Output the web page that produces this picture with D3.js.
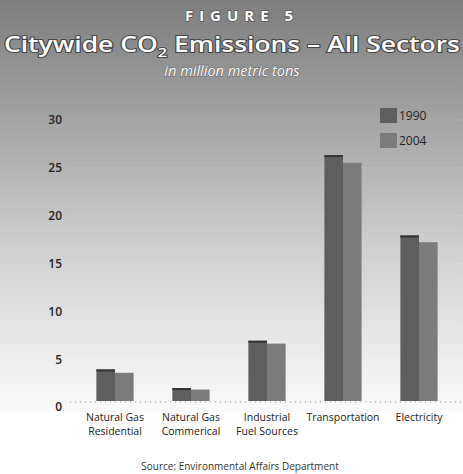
<!DOCTYPE html>
<html>
<head>
<meta charset="utf-8">
<script src="https://cdn.jsdelivr.net/npm/d3@7"></script>
<style>
  body { margin: 0; background: #fff; }
  text { font-family: "Open Sans", "Noto Sans", sans-serif; }
</style>
</head>
<body>
<div id="chart"></div>
<script>
// données
const categories = ["Natural Gas Residential", "Natural Gas Commerical", "Industrial Fuel Sources", "Transportation", "Electricity"];
const labels = [["Natural Gas", "Residential"], ["Natural Gas", "Commerical"], ["Industrial", "Fuel Sources"], ["Transportation"], ["Electricity"]];
const years = ["1990", "2004"];
const values1990 = [3.3, 1.35, 6.3, 25.7, 17.3];
const values2004 = [2.95, 1.2, 6.0, 24.9, 16.6];
const yTicks = [0, 5, 10, 15, 20, 25, 30];

const W = 463, H = 474;
const colors = { "1990": "#5e5e5e", "2004": "#7c7c7c" };

const svg = d3.select("#chart").append("svg")
  .attr("width", W)
  .attr("height", H);

// fond dégradé
const defs = svg.append("defs");
const grad = defs.append("linearGradient")
  .attr("id", "bg")
  .attr("x1", 0).attr("y1", 0).attr("x2", 0).attr("y2", 1);
grad.append("stop").attr("offset", "0%").attr("stop-color", "#7e7e7e");
grad.append("stop").attr("offset", "25%").attr("stop-color", "#9e9e9e");
grad.append("stop").attr("offset", "60%").attr("stop-color", "#cfcfcf");
grad.append("stop").attr("offset", "100%").attr("stop-color", "#fbfbfb");

svg.append("rect")
  .attr("x", 0).attr("y", 0)
  .attr("width", W).attr("height", 412)
  .attr("fill", "url(#bg)");

const x = d3.scaleBand()
  .domain(categories)
  .range([77, 457])
  .paddingInner(0.51)
  .paddingOuter(0.255);

const xYear = d3.scaleBand()
  .domain(years)
  .range([0, x.bandwidth()]);

const y = d3.scaleLinear()
  .domain([0, 30])
  .range([401, 114]);

// lignes pointillées discrètes
svg.append("g")
  .selectAll("line")
  .data(yTicks.filter(d => d > 0))
  .enter()
  .append("line")
  .attr("x1", 70).attr("x2", W)
  .attr("y1", d => y(d) + 6).attr("y2", d => y(d) + 6)
  .attr("stroke", "#ffffff")
  .attr("stroke-opacity", 0.35)
  .attr("stroke-dasharray", "1,3");

svg.append("line")
  .attr("x1", 70).attr("x2", W)
  .attr("y1", y(0) + 1).attr("y2", y(0) + 1)
  .attr("stroke", "#999")
  .attr("stroke-dasharray", "1,4");

// axe Y
const yAxis = svg.append("g")
  .attr("transform", "translate(62,0)")
  .call(d3.axisLeft(y).tickValues(yTicks).tickSize(0).tickPadding(0));
yAxis.select(".domain").remove();
yAxis.selectAll("text")
  .attr("dy", "0.32em")
  .attr("y", 6)
  .style("font-size", "12px")
  .style("font-weight", "600")
  .style("fill", "#222");

// barres
const groups = svg.append("g")
  .selectAll("g")
  .data(categories)
  .enter()
  .append("g")
  .attr("transform", d => `translate(${x(d)},0)`);

groups.selectAll("rect")
  .data((d, i) => years.map(yr => ({ year: yr, value: yr === "1990" ? values1990[i] : values2004[i] })))
  .enter()
  .append("rect")
  .attr("x", d => xYear(d.year))
  .attr("y", d => y(d.value))
  .attr("width", xYear.bandwidth())
  .attr("height", d => y(0) - y(d.value))
  .attr("fill", d => colors[d.year]);

groups.selectAll("line.top")
  .data((d, i) => [values1990[i]])
  .enter()
  .append("line")
  .attr("class", "top")
  .attr("x1", 0).attr("x2", xYear.bandwidth())
  .attr("y1", d => y(d) + 1).attr("y2", d => y(d) + 1)
  .attr("stroke", "#333")
  .attr("stroke-width", 2);

// libellés des catégories
const xl = svg.append("g")
  .selectAll("text")
  .data(categories)
  .enter()
  .append("text")
  .attr("x", d => x(d) + x.bandwidth() / 2)
  .attr("y", 421)
  .attr("text-anchor", "middle")
  .style("font-size", "10.5px")
  .style("fill", "#222");
xl.selectAll("tspan")
  .data((d, i) => labels[i])
  .enter()
  .append("tspan")
  .attr("x", function () { return d3.select(this.parentNode).attr("x"); })
  .attr("dy", (d, i) => i === 0 ? 0 : 14)
  .text(d => d);

// légende
const leg = svg.append("g")
  .selectAll("g")
  .data(years)
  .enter()
  .append("g")
  .attr("transform", (d, i) => `translate(380,${108 + i * 25})`);
leg.append("rect")
  .attr("width", 17).attr("height", 15)
  .attr("fill", d => colors[d]);
leg.append("text")
  .attr("x", 19).attr("y", 12)
  .style("font-size", "12px")
  .style("fill", "#222")
  .text(d => d);

// titres
svg.append("text")
  .attr("x", 242).attr("y", 21)
  .attr("text-anchor", "middle")
  .style("font-size", "15px")
  .style("font-weight", "700")
  .style("letter-spacing", "6px")
  .style("fill", "#fff")
  .style("stroke", "#555")
  .style("stroke-width", "1.5px")
  .style("paint-order", "stroke")
  .text("FIGURE 5");

const title = svg.append("text")
  .attr("x", 232).attr("y", 52)
  .attr("text-anchor", "middle")
  .attr("textLength", 456)
  .attr("lengthAdjust", "spacingAndGlyphs")
  .style("font-size", "21px")
  .style("font-weight", "600")
  .style("fill", "#fff")
  .style("stroke", "#444")
  .style("stroke-width", "2px")
  .style("paint-order", "stroke");
title.append("tspan").text("Citywide CO");
title.append("tspan").attr("dy", 5).style("font-size", "13px").text("2");
title.append("tspan").attr("dy", -5).text(" Emissions – All Sectors");

svg.append("text")
  .attr("x", 232).attr("y", 76)
  .attr("text-anchor", "middle")
  .style("font-size", "14.5px")
  .style("font-style", "italic")
  .style("fill", "#fff")
  .style("stroke", "#666")
  .style("stroke-width", "1px")
  .style("paint-order", "stroke")
  .text("in million metric tons");

// source
svg.append("text")
  .attr("x", 240).attr("y", 470)
  .attr("text-anchor", "middle")
  .style("font-size", "10px")
  .style("fill", "#333")
  .text("Source: Environmental Affairs Department");
</script>
</body>
</html>
